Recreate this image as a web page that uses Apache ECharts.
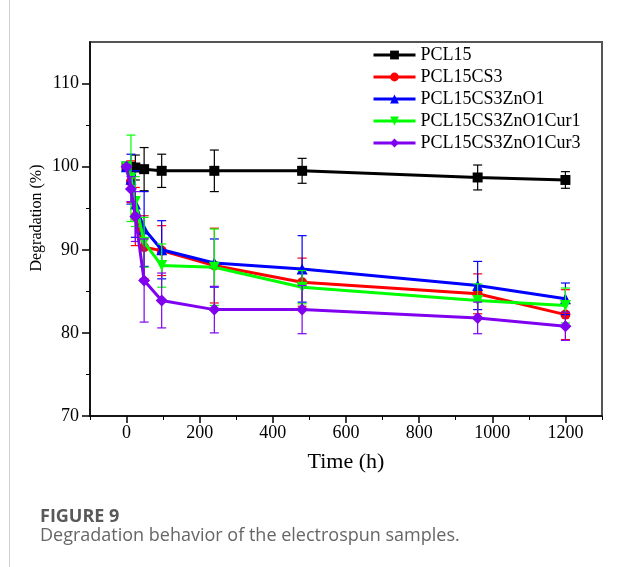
<!DOCTYPE html>
<html>
<head>
<meta charset="utf-8">
<script src="https://cdn.jsdelivr.net/npm/echarts@6/dist/echarts.min.js"></script>
<style>
  html, body { margin: 0; padding: 0; background: #fff; }
  #chart { width: 617px; height: 567px; }
</style>
</head>
<body>
<div id="chart"></div>
<script>
// Sampling times (h)
const times = [0, 12, 24, 48, 96, 240, 480, 960, 1200];

// Remaining mass (%) and standard deviations for each sample
const pcl15      = [100, 100, 99.9, 99.7, 99.5, 99.5, 99.5, 98.7, 98.4];
const pcl15Err   = [0, 0.5, 1.5, 2.6, 2.0, 2.5, 1.5, 1.5, 1.0];
const cs3        = [100, 98.2, 94.0, 90.3, 89.9, 88.1, 86.1, 84.7, 82.2];
const cs3Err     = [0, 2.5, 3.5, 3.8, 3.0, 4.5, 2.9, 2.4, 3.0];
const zno        = [100, 98.5, 95.5, 92.5, 90.0, 88.4, 87.7, 85.7, 84.1];
const znoErr     = [0, 3.0, 4.0, 4.5, 3.5, 2.9, 4.0, 2.9, 1.9];
const cur1       = [100, 98.6, 95.8, 90.9, 88.1, 87.9, 85.5, 83.9, 83.3];
const cur1Err    = [0, 5.2, 3.0, 3.0, 2.6, 4.6, 2.0, 2.0, 2.1];
const cur3       = [100, 97.3, 94.0, 86.3, 83.9, 82.8, 82.8, 81.8, 80.8];
const cur3Err    = [0, 1.5, 3.0, 5.0, 3.3, 2.8, 2.9, 1.9, 1.7];

const xLabels = [0, 200, 400, 600, 800, 1000, 1200];
const xMinor  = [-100, 100, 300, 500, 700, 900, 1100, 1300];
const yLabels = [70, 80, 90, 100, 110];
const yMinor  = [75, 85, 95, 105];

const samples = [
  { name: 'PCL15',             vals: pcl15, err: pcl15Err, color: '#000000', symbol: 'rect',         size: 10 },
  { name: 'PCL15CS3',          vals: cs3,   err: cs3Err,   color: '#ff0000', symbol: 'circle',       size: 10 },
  { name: 'PCL15CS3ZnO1',      vals: zno,   err: znoErr,   color: '#0000ff', symbol: 'triangle',     size: 11 },
  { name: 'PCL15CS3ZnO1Cur1',  vals: cur1,  err: cur1Err,  color: '#00ff00', symbol: 'path://M0,0 L10,0 L5,9 Z', size: 11 },
  { name: 'PCL15CS3ZnO1Cur3',  vals: cur3,  err: cur3Err,  color: '#8000f0', symbol: 'diamond',      size: 12 }
];

const serif = 'Liberation Serif';
const chart = echarts.init(document.getElementById('chart'), null, { renderer: 'canvas' });

function errorBarSeries(s, idx) {
  const data = [];
  times.forEach((t, i) => { if (s.err[i] > 0) data.push([t, s.vals[i], s.err[i]]); });
  return {
    type: 'custom',
    name: s.name + '-err',
    xAxisIndex: 0, yAxisIndex: 0,
    z: 2 + idx,
    silent: true,
    encode: { x: 0, y: 1 },
    data: data,
    renderItem: function (params, api) {
      const x = api.value(0), y = api.value(1), e = api.value(2);
      const top = api.coord([x, y + e]);
      const bot = api.coord([x, y - e]);
      const hw = 4.5;
      const st = { stroke: s.color, lineWidth: 1.2 };
      return {
        type: 'group',
        children: [
          { type: 'line', shape: { x1: top[0], y1: top[1], x2: bot[0], y2: bot[1] }, style: st },
          { type: 'line', shape: { x1: top[0] - hw, y1: top[1], x2: top[0] + hw, y2: top[1] }, style: st },
          { type: 'line', shape: { x1: bot[0] - hw, y1: bot[1], x2: bot[0] + hw, y2: bot[1] }, style: st }
        ]
      };
    }
  };
}

const series = [];
samples.forEach((s, idx) => {
  series.push(errorBarSeries(s, idx));
  series.push({
    type: 'line',
    name: s.name,
    xAxisIndex: 0, yAxisIndex: 0,
    z: 2 + idx,
    data: times.map((t, i) => [t, s.vals[i]]),
    symbol: s.symbol,
    symbolSize: s.size,
    showAllSymbol: true,
    lineStyle: { color: s.color, width: 3 },
    itemStyle: { color: s.color },
    emphasis: { disabled: true },
    animation: false
  });
});

const plain = v => String(v);

const option = {
  animation: false,
  backgroundColor: '#ffffff',
  grid: {
    left: 90, right: 15, top: 42, bottom: 151,
    show: true, borderColor: '#555555', borderWidth: 2, backgroundColor: 'transparent'
  },
  legend: {
    orient: 'vertical',
    left: 372, top: 46, padding: 0,
    itemWidth: 42, itemHeight: 11, itemGap: 4,
    data: samples.map(s => s.name),
    lineStyle: { width: 3 },
    textStyle: { fontFamily: serif, fontSize: 18, color: '#000' },
    selectedMode: false
  },
  xAxis: [
    {
      type: 'value', min: -100, max: 1300,
      name: 'Time (h)', nameLocation: 'middle', nameGap: 35,
      nameTextStyle: { fontFamily: serif, fontSize: 22, color: '#000' },
      axisLine: { show: true, onZero: false, lineStyle: { color: '#000', width: 1.5 } },
      axisTick: { show: true, inside: false, length: 7, customValues: xLabels, lineStyle: { color: '#000', width: 1.5 } },
      axisLabel: { customValues: xLabels, formatter: plain, margin: 8, fontFamily: serif, fontSize: 18, color: '#000' },
      splitLine: { show: false }
    },
    {
      type: 'value', min: -100, max: 1300, position: 'bottom',
      axisLine: { show: false, onZero: false },
      axisTick: { show: true, inside: false, length: 4, customValues: xMinor, lineStyle: { color: '#000', width: 1 } },
      axisLabel: { show: false },
      splitLine: { show: false }
    }
  ],
  yAxis: [
    {
      type: 'value', min: 70, max: 115,
      axisLine: { show: true, onZero: false, lineStyle: { color: '#000', width: 1.5 } },
      axisTick: { show: true, inside: false, length: 8, customValues: yLabels, lineStyle: { color: '#000', width: 1.5 } },
      axisLabel: { customValues: yLabels, formatter: plain, margin: 11, fontFamily: serif, fontSize: 18, color: '#000' },
      splitLine: { show: false }
    },
    {
      type: 'value', min: 70, max: 115, position: 'left',
      axisLine: { show: false, onZero: false },
      axisTick: { show: true, inside: false, length: 4, customValues: yMinor, lineStyle: { color: '#000', width: 1 } },
      axisLabel: { show: false },
      splitLine: { show: false }
    }
  ],
  graphic: [
    { type: 'line', shape: { x1: 9.5, y1: 0, x2: 9.5, y2: 567 }, style: { stroke: '#d0d0d0', lineWidth: 1 } },
    {
      type: 'text', x: 37, y: 218, rotation: Math.PI / 2,
      style: { text: 'Degradation (%)', fontFamily: serif, fontSize: 16, fill: '#000', textAlign: 'center', textVerticalAlign: 'middle' }
    },
    {
      type: 'text', left: 40, top: 508,
      style: { text: 'FIGURE 9', fontFamily: 'Open Sans', fontSize: 18, fontWeight: 'bold', fill: '#595959' }
    },
    {
      type: 'text', left: 40, top: 527,
      style: { text: 'Degradation behavior of the electrospun samples.', fontFamily: 'Open Sans', fontSize: 18, fill: '#666' }
    }
  ],
  series: series
};

chart.setOption(option);
</script>
</body>
</html>
